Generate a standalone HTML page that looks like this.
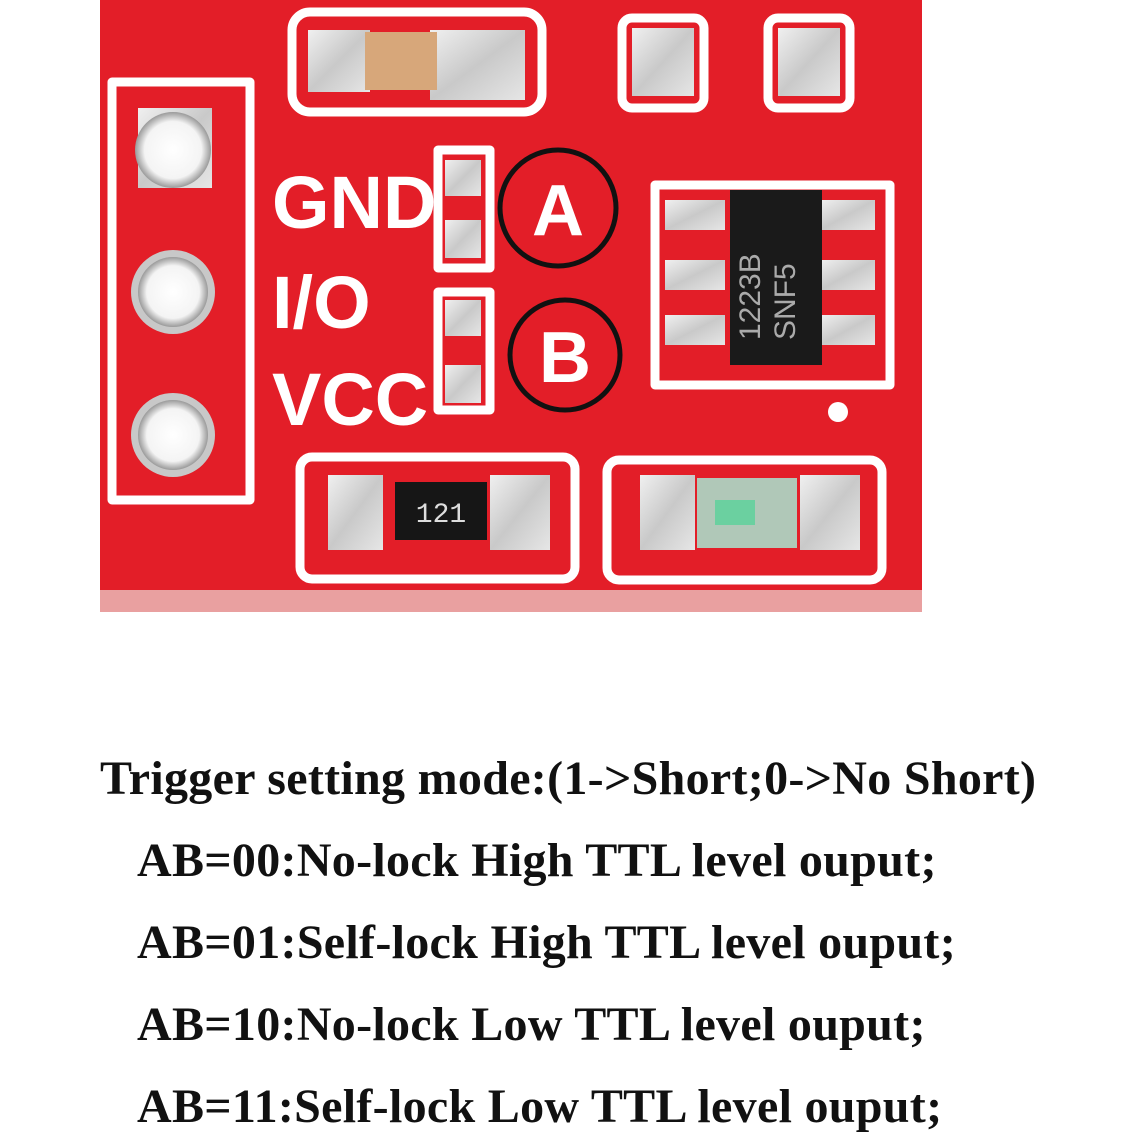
<!DOCTYPE html>
<html><head><meta charset="utf-8"><style>
html,body{margin:0;padding:0;background:#fff;width:1140px;height:1140px;overflow:hidden}
.t{position:absolute;font-family:"Liberation Serif",serif;font-weight:bold;font-size:48px;letter-spacing:0.3px;color:#111;white-space:nowrap}
</style></head><body>
<svg width="1140" height="660" style="position:absolute;left:0;top:0" xmlns="http://www.w3.org/2000/svg">
<defs>
<radialGradient id="hole" cx="50%" cy="50%" r="50%"><stop offset="0" stop-color="#fff"/><stop offset="0.75" stop-color="#f4f4f4"/><stop offset="1" stop-color="#9a9a9a"/></radialGradient>
<linearGradient id="pad" x1="0" y1="0" x2="1" y2="1"><stop offset="0" stop-color="#f0f0f0"/><stop offset="0.5" stop-color="#c9c9c9"/><stop offset="1" stop-color="#e6e6e6"/></linearGradient>
</defs>
<rect x="100" y="0" width="822" height="612" fill="#e31e28"/>
<rect x="100" y="590" width="822" height="22" fill="#e9a0a0"/>
<g fill="none" stroke="#fff" stroke-width="9" stroke-linejoin="round">
<path d="M112 82 H250 V500 H112 Z"/>
<rect x="292" y="12" width="250" height="100" rx="18"/>
<rect x="622" y="18" width="82" height="90" rx="10"/>
<rect x="768" y="18" width="82" height="90" rx="10"/>
<rect x="438" y="150" width="52" height="118"/>
<rect x="438" y="292" width="52" height="118"/>
<path d="M655 185 H890 V385 H655 Z"/>
<rect x="300" y="457" width="275" height="122" rx="12"/>
<rect x="607" y="460" width="275" height="120" rx="12"/>
</g>
<rect x="138" y="108" width="74" height="80" fill="url(#pad)"/>
<circle cx="173" cy="150" r="38" fill="url(#hole)"/>
<circle cx="173" cy="292" r="42" fill="#c8c8c8"/><circle cx="173" cy="292" r="35" fill="url(#hole)"/>
<circle cx="173" cy="435" r="42" fill="#c8c8c8"/><circle cx="173" cy="435" r="35" fill="url(#hole)"/>
<rect x="308" y="30" width="62" height="62" fill="url(#pad)"/>
<rect x="430" y="30" width="95" height="70" fill="url(#pad)"/>
<rect x="365" y="32" width="72" height="58" fill="#d7a77a"/>
<rect x="632" y="28" width="62" height="68" fill="url(#pad)"/>
<rect x="778" y="28" width="62" height="68" fill="url(#pad)"/>
<g fill="url(#pad)">
<rect x="445" y="160" width="36" height="36"/><rect x="445" y="220" width="36" height="38"/>
<rect x="445" y="300" width="36" height="36"/><rect x="445" y="365" width="36" height="38"/>
<rect x="665" y="200" width="60" height="30"/><rect x="665" y="260" width="60" height="30"/><rect x="665" y="315" width="60" height="30"/>
<rect x="820" y="200" width="55" height="30"/><rect x="820" y="260" width="55" height="30"/><rect x="820" y="315" width="55" height="30"/>
<rect x="328" y="475" width="55" height="75"/><rect x="490" y="475" width="60" height="75"/>
<rect x="640" y="475" width="55" height="75"/><rect x="800" y="475" width="60" height="75"/>
</g>
<rect x="730" y="190" width="92" height="175" fill="#1a1a1a"/>
<text x="0" y="0" transform="translate(760,340) rotate(-90)" fill="#aaa" font-family="Liberation Sans,sans-serif" font-size="30">1223B</text>
<text x="0" y="0" transform="translate(795,340) rotate(-90)" fill="#aaa" font-family="Liberation Sans,sans-serif" font-size="30">SNF5</text>
<rect x="395" y="482" width="92" height="58" fill="#161616"/>
<text x="441" y="522" fill="#ddd" text-anchor="middle" font-family="Liberation Mono,monospace" font-size="28">121</text>
<rect x="697" y="478" width="100" height="70" fill="#b0c8b8"/><rect x="715" y="500" width="40" height="25" fill="#6bd0a0"/>
<g fill="#fff" font-family="Liberation Sans,sans-serif" font-weight="bold" font-size="74">
<text x="272" y="228">GND</text><text x="272" y="328">I/O</text><text x="272" y="425">VCC</text>
</g>
<circle cx="558" cy="208" r="58" fill="none" stroke="#111" stroke-width="5"/>
<circle cx="565" cy="355" r="55" fill="none" stroke="#111" stroke-width="5"/>
<g fill="#fff" font-family="Liberation Sans,sans-serif" font-weight="bold" font-size="72" text-anchor="middle">
<text x="558" y="235">A</text><text x="565" y="382">B</text>
</g>
<circle cx="838" cy="412" r="10" fill="#fff"/>
</svg>
<div class="t" style="left:100px;top:751px">Trigger setting mode:(1-&gt;Short;0-&gt;No Short)</div>
<div class="t" style="left:137px;top:833px">AB=00:No-lock High TTL level ouput;</div>
<div class="t" style="left:137px;top:915px">AB=01:Self-lock High TTL level ouput;</div>
<div class="t" style="left:137px;top:997px">AB=10:No-lock Low TTL level ouput;</div>
<div class="t" style="left:137px;top:1079px">AB=11:Self-lock Low TTL level ouput;</div>
</body></html>
